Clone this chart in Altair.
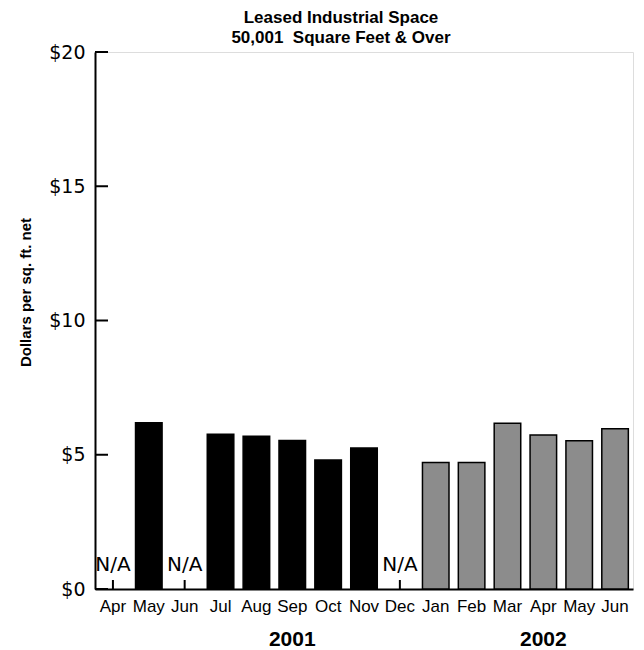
import altair as alt
import pandas as pd

months = ["Apr", "May", "Jun", "Jul", "Aug", "Sep", "Oct", "Nov", "Dec",
          "Jan", "Feb", "Mar", "Apr", "May", "Jun"]
years = [2001] * 9 + [2002] * 6
values = [None, 6.19, None, 5.76, 5.69, 5.53, 4.80, 5.25, None,
          4.71, 4.71, 6.17, 5.74, 5.52, 5.97]
y_ticks = [0, 5, 10, 15, 20]
year_labels = ["2001", "2002"]
year_label_at = ["Sep 2001", "Apr 2002"]

keys = [f"{m} {y}" for m, y in zip(months, years)]
df = pd.DataFrame({"key": keys, "month": months, "year": years, "value": values})
bars_df = df.dropna(subset=["value"])
na_df = df[df["value"].isna()].assign(zero=0)
ticks_df = pd.DataFrame({"v": y_ticks})
years_df = pd.DataFrame({"key": year_label_at, "label": year_labels})

W, H = 538, 537
SANS = "Liberation Sans, Arial, sans-serif"
VERD = "DejaVu Sans, Verdana, sans-serif"

x = alt.X("key:N", sort=keys, title=None,
          scale=alt.Scale(paddingInner=0.26, paddingOuter=0.13),
          axis=alt.Axis(labelExpr="split(datum.value, ' ')[0]", labelAngle=0,
                        ticks=False, domainColor="black", domainWidth=2,
                        labelFont=SANS, labelFontSize=17, labelColor="black",
                        labelPadding=9, grid=False, labelOverlap=False))
y = alt.Y("value:Q", title="Dollars per sq. ft. net",
          scale=alt.Scale(domain=[0, 20], nice=False),
          axis=alt.Axis(values=y_ticks, labelExpr="'$' + datum.value",
                        ticks=False, domainColor="black", domainWidth=2,
                        labelFont=VERD, labelFontSize=19, labelColor="black",
                        labelPadding=10, grid=False,
                        titleFont=SANS, titleFontSize=15, titleFontWeight="bold",
                        titleColor="black", titleX=-70, titleY=240,
                        titleAlign="center", titleBaseline="middle", titleAngle=270))

bars = alt.Chart(bars_df).mark_bar(stroke="black", strokeWidth=1.5).encode(
    x=x, y=y,
    color=alt.Color("year:N", scale=alt.Scale(domain=[2001, 2002],
                                              range=["#000000", "#8c8c8c"]),
                    legend=None),
)

yticks = alt.Chart(ticks_df).mark_rule(color="black", strokeWidth=2).encode(
    y=alt.Y("v:Q"), x=alt.value(0), x2=alt.value(13))

na_rules = alt.Chart(na_df).mark_rule(color="black", strokeWidth=2).encode(
    x=alt.X("key:N", sort=keys), y=alt.Y("zero:Q"), y2=alt.value(H - 9))

na_text = alt.Chart(na_df).mark_text(text="N/A", font=VERD, fontSize=20,
                                     color="black", baseline="alphabetic",
                                     align="center").encode(
    x=alt.X("key:N", sort=keys), y=alt.value(H - 18))

yr_text = alt.Chart(years_df).mark_text(font=SANS, fontSize=21, fontWeight="bold",
                                        color="black", baseline="alphabetic",
                                        align="center").encode(
    x=alt.X("key:N", sort=keys), y=alt.value(H + 57), text="label:N")

chart = alt.layer(bars, yticks, na_rules, na_text, yr_text).properties(
    width=W, height=H,
    title=alt.TitleParams(
        text=["Leased Industrial Space", "50,001\u00a0 Square Feet & Over"],
        font=SANS, fontSize=17, fontWeight="bold", lineHeight=20,
        color="black", anchor="middle", dx=-23, dy=8),
    autosize=alt.AutoSizeParams(type="none"),
    padding={"left": 87, "top": 44, "right": 3, "bottom": 60},
).configure_view(stroke=None).configure(background="white")

chart.save("out.html", embed_options={"renderer": "svg", "actions": False})
